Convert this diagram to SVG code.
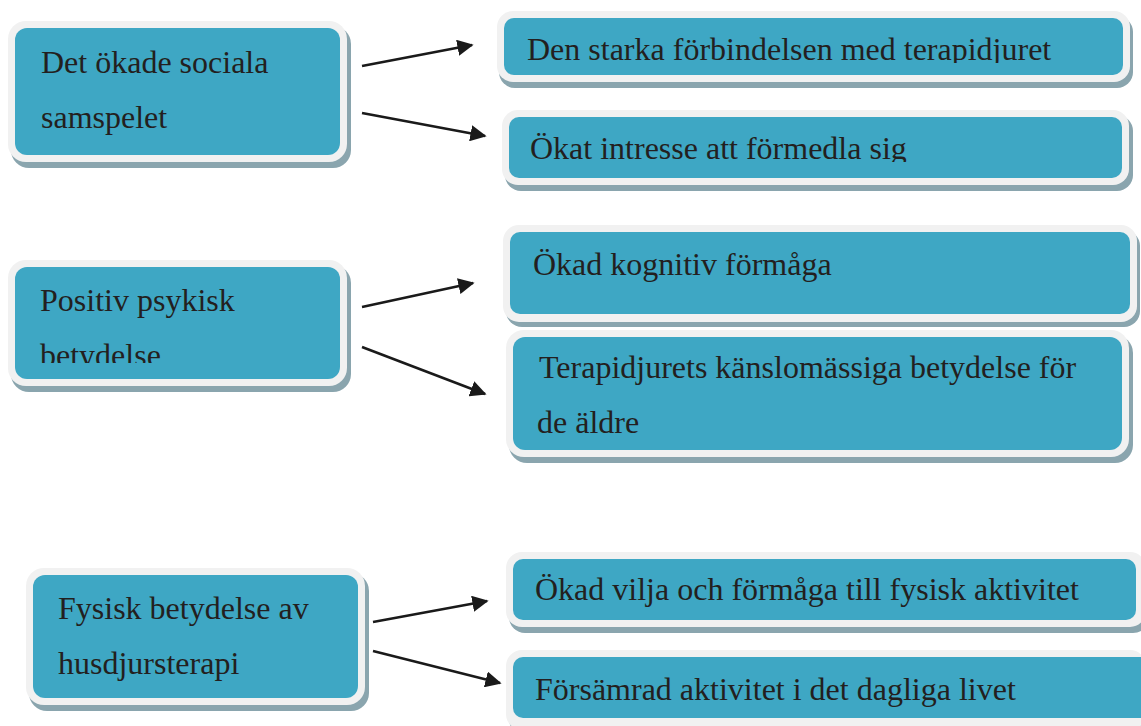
<svg xmlns="http://www.w3.org/2000/svg" width="1141" height="726" viewBox="0 0 1141 726">
<defs>
<style>
.sh{fill:#8aa5ae}
.bd{fill:#f1f1f1}
.tl{fill:#3ea7c4}
.tx{font-family:"Liberation Serif","Times New Roman",serif;font-size:32px;fill:#231f20}
.cn{stroke:#1a1a1a;stroke-width:2.5;fill:none;marker-end:url(#ah)}
</style>
<marker id="ah" viewBox="0 0 10 10" refX="9" refY="5" markerWidth="6.5" markerHeight="6.5" markerUnits="strokeWidth" orient="auto">
<path d="M0,0 L10,5 L0,10 z" fill="#1a1a1a"/>
</marker>
<clipPath id="c2"><rect x="500" y="15" width="630" height="48"/></clipPath>
<clipPath id="c3"><rect x="500" y="110" width="630" height="52"/></clipPath>
<clipPath id="c4"><rect x="10" y="260" width="340" height="103"/></clipPath>
</defs>
<rect width="1141" height="726" fill="#ffffff"/>

<g id="n1">
<rect class="sh" x="11" y="26" width="340" height="142" rx="18"/>
<rect class="bd" x="8" y="21" width="339" height="141" rx="18"/>
<rect class="tl" x="15" y="28" width="325" height="127" rx="12"/>
<text class="tx" x="41" y="73">Det ökade sociala</text>
<text class="tx" x="41" y="128">samspelet</text>
</g>

<g id="n2">
<rect class="sh" x="499" y="16" width="634" height="72" rx="16"/>
<rect class="bd" x="497" y="11" width="633" height="71" rx="16"/>
<rect class="tl" x="504" y="18" width="619" height="57" rx="10"/>
<text class="tx" x="527" y="60" clip-path="url(#c2)">Den starka förbindelsen med terapidjuret</text>
</g>

<g id="n3">
<rect class="sh" x="505" y="115" width="628" height="76" rx="16"/>
<rect class="bd" x="502" y="110" width="627" height="75" rx="16"/>
<rect class="tl" x="509" y="117" width="613" height="61" rx="10"/>
<text class="tx" x="530" y="159" clip-path="url(#c3)">Ökat intresse att förmedla sig</text>
</g>

<g id="n4">
<rect class="sh" x="11" y="265" width="340" height="127" rx="18"/>
<rect class="bd" x="8" y="260" width="339" height="126" rx="18"/>
<rect class="tl" x="15" y="267" width="325" height="112" rx="12"/>
<text class="tx" x="40" y="311">Positiv psykisk</text>
<text class="tx" x="40" y="366" clip-path="url(#c4)">betydelse</text>
</g>

<g id="n5">
<rect class="sh" x="506" y="230" width="634" height="97" rx="16"/>
<rect class="bd" x="503" y="225" width="634" height="97" rx="16"/>
<rect class="tl" x="510" y="232" width="620" height="82" rx="10"/>
<text class="tx" x="533" y="275">Ökad kognitiv förmåga</text>
</g>

<g id="n6">
<rect class="sh" x="509" y="335" width="624" height="128" rx="18"/>
<rect class="bd" x="506" y="330" width="623" height="127" rx="18"/>
<rect class="tl" x="513" y="337" width="609" height="113" rx="12"/>
<text class="tx" x="539" y="378">Terapidjurets känslomässiga betydelse för</text>
<text class="tx" x="537" y="433">de äldre</text>
</g>

<g id="n7">
<rect class="sh" x="29" y="573" width="340" height="138" rx="18"/>
<rect class="bd" x="26" y="568" width="339" height="137" rx="18"/>
<rect class="tl" x="33" y="575" width="325" height="123" rx="12"/>
<text class="tx" x="58" y="619">Fysisk betydelse av</text>
<text class="tx" x="58" y="674">husdjursterapi</text>
</g>

<g id="n8">
<rect class="sh" x="509" y="557" width="640" height="76" rx="16"/>
<rect class="bd" x="506" y="552" width="640" height="75" rx="16"/>
<rect class="tl" x="513" y="559" width="623" height="61" rx="10"/>
<text class="tx" x="535" y="600">Ökad vilja och förmåga till fysisk aktivitet</text>
</g>

<g id="n9">
<rect class="sh" x="509" y="655" width="640" height="80" rx="16"/>
<rect class="bd" x="506" y="650" width="640" height="80" rx="16"/>
<rect class="tl" x="513" y="657" width="640" height="61" rx="10"/>
<text class="tx" x="535" y="700">Försämrad aktivitet i det dagliga livet</text>
</g>

<g id="connectors">
<line class="cn" x1="362" y1="66" x2="472" y2="45"/>
<line class="cn" x1="362" y1="113" x2="485" y2="136"/>
<line class="cn" x1="362" y1="307" x2="473" y2="283"/>
<line class="cn" x1="362" y1="347" x2="485" y2="394"/>
<line class="cn" x1="373" y1="622" x2="487" y2="601"/>
<line class="cn" x1="373" y1="651" x2="500" y2="683"/>
</g>
</svg>
